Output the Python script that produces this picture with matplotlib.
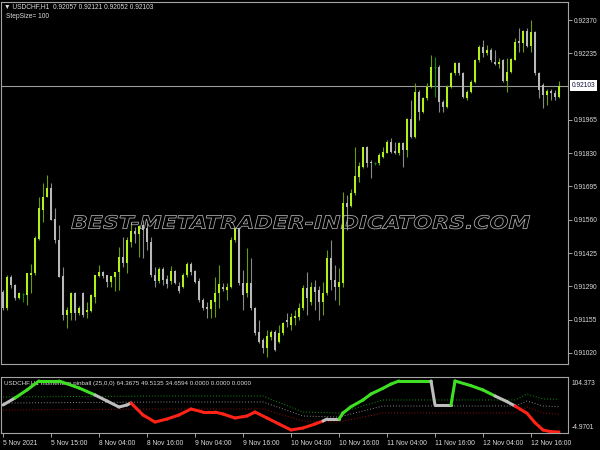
import matplotlib
matplotlib.use("Agg")
import matplotlib.pyplot as plt
import matplotlib.patheffects as pe
from matplotlib.transforms import Affine2D
import numpy as np

plt.rcParams['font.family'] = ['Liberation Sans', 'DejaVu Sans']

# USDCHF H1 candles, 5 Nov 2021 -> 12 Nov 2021
opens = [0.91267, 0.91202, 0.91328, 0.91296, 0.91243, 0.91259, 0.91255, 0.91336, 0.91344, 0.91482,
         0.91600, 0.91652, 0.91689, 0.91563, 0.91478, 0.91332, 0.91174, 0.91182, 0.91263, 0.91182,
         0.91263, 0.91186, 0.91190, 0.91247, 0.91332, 0.91348, 0.91336, 0.91308, 0.91328, 0.91348,
         0.91409, 0.91385, 0.91470, 0.91514, 0.91502, 0.91539, 0.91527, 0.91470, 0.91336, 0.91312,
         0.91360, 0.91320, 0.91312, 0.91352, 0.91292, 0.91287, 0.91336, 0.91381, 0.91352, 0.91312,
         0.91235, 0.91206, 0.91198, 0.91227, 0.91263, 0.91287, 0.91276, 0.91287, 0.91478, 0.91527,
         0.91304, 0.91263, 0.91304, 0.91202, 0.91105, 0.91073, 0.91040, 0.91085, 0.91105, 0.91064,
         0.91101, 0.91154, 0.91133, 0.91162, 0.91166, 0.91202, 0.91283, 0.91227, 0.91287, 0.91276,
         0.91227, 0.91263, 0.91405, 0.91316, 0.91287, 0.91304, 0.91628, 0.91616, 0.91669, 0.91733,
         0.91774, 0.91855, 0.91794, 0.91790, 0.91790, 0.91815, 0.91831, 0.91875, 0.91839, 0.91831,
         0.91871, 0.91843, 0.91969, 0.91896, 0.92078, 0.91997, 0.92054, 0.92098, 0.92179, 0.92179,
         0.92037, 0.92017, 0.92098, 0.92155, 0.92196, 0.92155, 0.92054, 0.92078, 0.92119, 0.92208,
         0.92260, 0.92236, 0.92248, 0.92200, 0.92192, 0.92208, 0.92123, 0.92159, 0.92208, 0.92285,
         0.92277, 0.92325, 0.92265, 0.92321, 0.92155, 0.92106, 0.92066, 0.92082, 0.92074, 0.92057]
highs = [0.91276, 0.91336, 0.91336, 0.91300, 0.91267, 0.91263, 0.91344, 0.91381, 0.91494, 0.91652,
         0.91709, 0.91742, 0.91709, 0.91608, 0.91539, 0.91369, 0.91206, 0.91267, 0.91267, 0.91210,
         0.91267, 0.91227, 0.91259, 0.91336, 0.91377, 0.91352, 0.91336, 0.91332, 0.91348, 0.91450,
         0.91490, 0.91490, 0.91551, 0.91531, 0.91539, 0.91559, 0.91547, 0.91490, 0.91369, 0.91369,
         0.91369, 0.91336, 0.91373, 0.91357, 0.91308, 0.91344, 0.91389, 0.91389, 0.91357, 0.91324,
         0.91243, 0.91227, 0.91235, 0.91328, 0.91377, 0.91304, 0.91304, 0.91490, 0.91531, 0.91531,
         0.91357, 0.91446, 0.91405, 0.91206, 0.91154, 0.91081, 0.91113, 0.91113, 0.91113, 0.91133,
         0.91146, 0.91182, 0.91182, 0.91194, 0.91223, 0.91296, 0.91348, 0.91308, 0.91316, 0.91292,
         0.91308, 0.91438, 0.91478, 0.91377, 0.91365, 0.91673, 0.91660, 0.91685, 0.91855, 0.91794,
         0.91855, 0.91859, 0.91802, 0.91794, 0.91831, 0.91855, 0.91883, 0.91892, 0.91875, 0.91875,
         0.91875, 0.91973, 0.92046, 0.92115, 0.92086, 0.92058, 0.92115, 0.92228, 0.92220, 0.92187,
         0.92046, 0.92106, 0.92159, 0.92200, 0.92200, 0.92159, 0.92086, 0.92127, 0.92212, 0.92269,
         0.92289, 0.92269, 0.92256, 0.92248, 0.92216, 0.92212, 0.92216, 0.92216, 0.92297, 0.92337,
         0.92329, 0.92337, 0.92370, 0.92325, 0.92159, 0.92115, 0.92090, 0.92090, 0.92086, 0.92121]
lows = [0.91194, 0.91194, 0.91283, 0.91235, 0.91239, 0.91227, 0.91214, 0.91263, 0.91336, 0.91478,
        0.91551, 0.91652, 0.91559, 0.91466, 0.91328, 0.91154, 0.91121, 0.91154, 0.91154, 0.91174,
        0.91166, 0.91162, 0.91186, 0.91223, 0.91328, 0.91324, 0.91287, 0.91287, 0.91271, 0.91276,
        0.91369, 0.91344, 0.91450, 0.91466, 0.91409, 0.91405, 0.91438, 0.91328, 0.91287, 0.91304,
        0.91296, 0.91283, 0.91300, 0.91300, 0.91263, 0.91283, 0.91328, 0.91336, 0.91304, 0.91227,
        0.91194, 0.91162, 0.91162, 0.91166, 0.91202, 0.91271, 0.91235, 0.91283, 0.91470, 0.91296,
        0.91194, 0.91247, 0.91194, 0.91093, 0.91060, 0.91020, 0.91004, 0.91073, 0.91028, 0.91060,
        0.91093, 0.91125, 0.91113, 0.91133, 0.91154, 0.91194, 0.91174, 0.91214, 0.91194, 0.91154,
        0.91174, 0.91255, 0.91276, 0.91235, 0.91214, 0.91287, 0.91519, 0.91612, 0.91660, 0.91713,
        0.91770, 0.91774, 0.91729, 0.91782, 0.91782, 0.91810, 0.91831, 0.91831, 0.91827, 0.91823,
        0.91774, 0.91815, 0.91892, 0.91892, 0.91965, 0.91993, 0.92046, 0.92094, 0.92058, 0.91997,
        0.91997, 0.92013, 0.92094, 0.92147, 0.92147, 0.92054, 0.92046, 0.92074, 0.92115, 0.92200,
        0.92220, 0.92228, 0.92200, 0.92187, 0.92175, 0.92119, 0.92078, 0.92155, 0.92208, 0.92240,
        0.92240, 0.92260, 0.92240, 0.92147, 0.92054, 0.92013, 0.92025, 0.92046, 0.92046, 0.92052]
closes = [0.91202, 0.91328, 0.91296, 0.91243, 0.91263, 0.91259, 0.91344, 0.91344, 0.91486, 0.91608,
          0.91652, 0.91689, 0.91559, 0.91478, 0.91328, 0.91174, 0.91194, 0.91263, 0.91182, 0.91202,
          0.91174, 0.91194, 0.91255, 0.91336, 0.91348, 0.91332, 0.91308, 0.91332, 0.91348, 0.91409,
          0.91385, 0.91478, 0.91514, 0.91502, 0.91535, 0.91519, 0.91470, 0.91336, 0.91312, 0.91360,
          0.91316, 0.91300, 0.91352, 0.91304, 0.91271, 0.91336, 0.91381, 0.91348, 0.91308, 0.91235,
          0.91202, 0.91198, 0.91235, 0.91263, 0.91300, 0.91279, 0.91287, 0.91478, 0.91527, 0.91304,
          0.91255, 0.91304, 0.91202, 0.91101, 0.91064, 0.91040, 0.91089, 0.91105, 0.91032, 0.91101,
          0.91142, 0.91146, 0.91166, 0.91170, 0.91202, 0.91283, 0.91243, 0.91287, 0.91267, 0.91227,
          0.91263, 0.91405, 0.91316, 0.91287, 0.91308, 0.91628, 0.91612, 0.91669, 0.91737, 0.91778,
          0.91855, 0.91790, 0.91790, 0.91790, 0.91823, 0.91835, 0.91875, 0.91835, 0.91831, 0.91871,
          0.91843, 0.91969, 0.91896, 0.92078, 0.91997, 0.92054, 0.92098, 0.92179, 0.92179, 0.92037,
          0.92017, 0.92098, 0.92155, 0.92196, 0.92155, 0.92058, 0.92078, 0.92119, 0.92208, 0.92260,
          0.92236, 0.92248, 0.92208, 0.92192, 0.92200, 0.92123, 0.92159, 0.92212, 0.92281, 0.92277,
          0.92325, 0.92265, 0.92321, 0.92155, 0.92086, 0.92066, 0.92082, 0.92074, 0.92058, 0.92103]

price_ticks = [0.92370, 0.92235, 0.91965, 0.91830, 0.91695, 0.91560, 0.91425, 0.91290, 0.91155, 0.91020]
last_price = 0.92103

time_ticks = [0, 12, 24, 36, 48, 60, 72, 84, 96, 108, 120, 132]
time_labels = ["5 Nov 2021", "5 Nov 15:00", "8 Nov 04:00", "8 Nov 16:00", "9 Nov 04:00",
               "9 Nov 16:00", "10 Nov 04:00", "10 Nov 16:00", "11 Nov 04:00", "11 Nov 16:00",
               "12 Nov 04:00", "12 Nov 16:00"]

# momentum pinball line (key bars), state: g = up (green), r = down (red), n = neutral
mom_bars = [0, 3, 6, 9, 14, 19, 23, 26, 29, 31, 32, 35, 38, 41, 44, 47, 50, 53, 55, 58,
            61, 63, 66, 69, 72, 75, 78, 80, 81, 84, 85, 87, 90, 92, 95, 97, 99, 107, 108, 112,
            113, 117, 120, 123, 126, 128, 131, 133, 135, 137, 139]
mom_vals = [53.0, 66.7, 82.4, 100, 100, 86.3, 72.6, 60.8, 49.0, 53.0, 56.9, 33.4, 19.6, 25.5, 33.4,
            45.1, 39.2, 39.2, 35.3, 27.5, 31.4, 39.2, 27.5, 15.7, 4.0, 7.9, 15.7, 21.6, 25.5, 25.5,
            37.3, 49.6, 62.8, 74.5, 85.7, 94.0, 100, 100, 53.0, 53.0, 100, 90.8, 82.4, 70.6, 59.5,
            51.0, 36.7, 18.3, 4.0, 0.6, 0.0]
mom_state = "ngggggnnnnrrrrrrrrrrrrrrrrrnnggggggggnnggggnnrrrrr"

# dotted bands
band_bars = [0, 40, 65, 75, 84, 95, 128, 131, 135, 139]
band_upper = [68.6, 70.6, 70.6, 39.2, 37.3, 62.8, 62.8, 74.5, 64.7, 64.37]
band_mid = [56.9, 58.8, 58.8, 31.4, 29.4, 51.0, 51.0, 60.8, 51.0, 49.51]
band_lower = [43.2, 45.1, 45.1, 21.6, 19.6, 37.3, 37.3, 49.0, 37.3, 34.66]

BULL = '#b2f01c'
BEAR = '#b9b9b9'
BULL_WICK = '#6c9a08'
BEAR_WICK = '#8a8a8a'
DOJI = '#0a8a0a'
FRAME = '#a4a4a4'
TXT = '#dcdcdc'


class StretchOutline(pe.AbstractPathEffect):
    """Draw the text outline only, stretched horizontally around cx."""

    def __init__(self, sx, cx, lw, color):
        super().__init__()
        self.sx, self.cx, self.lw, self.color = sx, cx, lw, color

    def draw_path(self, renderer, gc, tpath, affine, rgbFace):
        aff = affine + Affine2D().translate(-self.cx, 0).scale(self.sx, 1).translate(self.cx, 0)
        gc0 = renderer.new_gc()
        gc0.copy_properties(gc)
        gc0.set_linewidth(self.lw)
        gc0.set_foreground(self.color)
        renderer.draw_path(gc0, tpath, aff, None)
        gc0.restore()


o = np.array(opens)
h = np.array(highs)
l = np.array(lows)
c = np.array(closes)
idx = np.arange(len(o))
up = c > o
dn = c < o
dj = c == o

fig = plt.figure(figsize=(6, 4.5), dpi=100, facecolor='black')
ax = fig.add_axes([1 / 600, 86 / 450, 567 / 600, 362 / 450], facecolor='black')
sub = fig.add_axes([1 / 600, 17 / 450, 567 / 600, 56 / 450], facecolor='black')

# watermark behind the candles, hollow letters stretched to the width used on the chart
wm = fig.text(0.5, 0.503, "BEST-METATRADER-INDICATORS.COM", ha='center', va='center',
              fontsize=13, family='DejaVu Sans', weight='bold', style='italic',
              color='black', zorder=0.5)
fig.canvas.draw()
wm_w = wm.get_window_extent().width
wm.set_path_effects([StretchOutline(458 / wm_w, 300, 0.55, '#b4b4b4')])

# main price panel
ax.axhline(last_price, color='#9c9c9c', lw=0.8, zorder=1)
ax.vlines(idx[up], l[up], h[up], color=BULL_WICK, lw=0.8, zorder=2)
ax.vlines(idx[dn], l[dn], h[dn], color=BEAR_WICK, lw=0.8, zorder=2)
ax.vlines(idx[dj], l[dj], h[dj], color=DOJI, lw=0.8, zorder=2)
ax.bar(idx[up], (c - o)[up], bottom=o[up], width=0.7, color=BULL, linewidth=0, zorder=3)
ax.bar(idx[dn], (o - c)[dn], bottom=c[dn], width=0.7, color=BEAR, linewidth=0, zorder=3)
ax.hlines(o[dj], idx[dj] - 0.35, idx[dj] + 0.35, color=DOJI, lw=0.8, zorder=3)

ax.set_xlim(-0.5, 141.25)
ax.set_ylim(0.90975, 0.92443)
ax.patch.set_alpha(0)
ax.yaxis.tick_right()
ax.set_yticks(price_ticks)
ax.set_yticklabels(["%.5f" % p for p in price_ticks])
ax.tick_params(axis='y', colors=FRAME, labelcolor=TXT, labelsize=4.8, length=3, width=0.7, pad=1.5)
ax.tick_params(axis='x', bottom=False, labelbottom=False)
for s in ax.spines.values():
    s.set_color(FRAME)
    s.set_linewidth(0.8)

ax.annotate("%.5f" % last_price, xy=(1, last_price), xycoords=('axes fraction', 'data'),
            xytext=(2.6, 0), textcoords='offset points', ha='left', va='center',
            fontsize=4.8, color='#101040',
            bbox=dict(boxstyle='square,pad=0.3', fc='white', ec='none'))

fig.text(4 / 600, 1 - 7 / 450, "\u25bc USDCHF,H1  0.92057 0.92121 0.92052 0.92103",
         ha='left', va='center', fontsize=4.8, color=TXT)
fig.text(6 / 600, 1 - 16.5 / 450, "StepSize= 100", ha='left', va='center', fontsize=4.8, color=TXT)

# indicator sub-window
sub.text(0.006, 0.93, "USDCHF,H1 momentum pinball (25,0,0) 64.3675 49.5135 34.6594 0.0000 0.0000 0.0000",
         transform=sub.transAxes, ha='left', va='top', fontsize=4.5, color=TXT, zorder=1)

sub.plot(band_bars, band_upper, color='#0f9a0f', lw=0.7, ls=(0, (1, 2)), zorder=2)
sub.plot(band_bars, band_mid, color='#8a8a8a', lw=0.7, ls=(0, (1, 2)), zorder=2)
sub.plot(band_bars, band_lower, color='#9a1010', lw=0.7, ls=(0, (1, 2)), zorder=2)

state_color = {'g': '#3fe024', 'r': '#ff2318', 'n': '#bdbdbd'}
for k in range(len(mom_bars) - 1):
    sub.plot(mom_bars[k:k + 2], mom_vals[k:k + 2], color=state_color[mom_state[k]],
             lw=2.2, solid_capstyle='round', zorder=3)

sub.set_xlim(-0.5, 141.25)
sub.set_ylim(-1.9, 107.8)
sub.set_yticks([])
sub.set_xticks(time_ticks)
sub.set_xticklabels(time_labels, ha='left')
sub.tick_params(axis='x', colors=FRAME, labelcolor=TXT, labelsize=4.9, length=3, width=0.7, pad=2)
for s in sub.spines.values():
    s.set_color(FRAME)
    s.set_linewidth(0.8)

sub.annotate("104.373", xy=(1, 1), xycoords='axes fraction', xytext=(2.5, -2),
             textcoords='offset points', ha='left', va='top', fontsize=4.8, color=TXT)
sub.annotate("-4.9701", xy=(1, 0), xycoords='axes fraction', xytext=(2.5, 1.5),
             textcoords='offset points', ha='left', va='bottom', fontsize=4.8, color=TXT)

fig.savefig("out.png", dpi=100, facecolor='black')
